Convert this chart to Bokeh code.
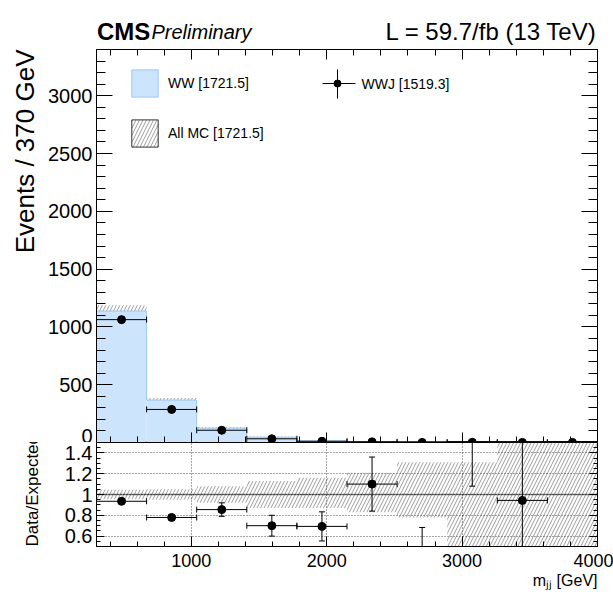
import numpy as np
from bokeh.plotting import figure
from bokeh.models import (Range1d, LinearAxis, SingleIntervalTicker, CustomJSTickFormatter,
                          Label, Legend, LegendItem, Span, Grid, Title)
from bokeh.layouts import column
from bokeh.embed import file_html
from bokeh.resources import INLINE

# ---------------- data ----------------
bin_edges = [300, 670, 1040, 1410, 1780, 2150, 2520, 2890, 3260, 3630, 4000]
mc_ww = [1137.0, 367.0, 124.0, 46.0, 15.0, 5.0, 3.3, 1.0, 1.06, 0.0]
data_wwj = [1063.0, 286.0, 106.0, 32.2, 10.4, 5.5, 1.0, 2.0, 1.0, 1.0]
data_err = [33.0, 17.0, 10.0, 5.7, 3.2, 2.3, 1.0, 1.4, 1.0, 1.0]
mc_rel_err_lo = [0.045, 0.05, 0.08, 0.13, 0.13, 0.17, 0.22, 0.60, 1.0, 1.0]
mc_rel_err_hi = [0.045, 0.05, 0.08, 0.13, 0.16, 0.21, 0.31, 0.31, 1.0, 1.0]
ratio_err_lo = [0.02, 0.025, 0.065, 0.10, 0.14, 0.26, 0.30, 0.92, 0.95, np.nan]
ratio_err_hi = [0.02, 0.025, 0.065, 0.10, 0.14, 0.26, 0.38, 1.00, 1.20, np.nan]
legend_ww = "WW [1721.5]"
legend_mc = "All MC [1721.5]"
legend_data = "WWJ [1519.3]"
title_cms = "CMS"
title_prelim = "Preliminary"
title_lumi = "L = 59.7/fb (13 TeV)"
ytitle_top = "Events / 370 GeV"
ytitle_ratio = "Data/Expected"
xtitle = "m\u2c7c\u2c7c [GeV]"

# ---------------- derived ----------------
edges = np.array(bin_edges, dtype=float)
left, right = edges[:-1], edges[1:]
centers = 0.5 * (left + right)
mc = np.array(mc_ww)
dat = np.array(data_wwj)
derr = np.array(data_err)
rlo = np.array(mc_rel_err_lo)
rhi = np.array(mc_rel_err_hi)
ratio = np.where(mc > 0, dat / np.where(mc > 0, mc, 1.0), np.nan)
r_elo = np.array(ratio_err_lo)
r_ehi = np.array(ratio_err_hi)

FONT = "Liberation Sans"
WW_FILL = "#cce4fc"
WW_LINE = "#9cc8f2"
HATCH_C = "#5a5a5a"

FW = 501          # frame width
HEAD_H = 49
TOP_FH = 393      # top frame height
RAT_FH = 104      # ratio frame height
BL, BR = 96, 16   # left / right borders
RAT_BB = 594 - HEAD_H - TOP_FH - RAT_FH

x_range = Range1d(300, 4000)


def style_axis(ax, tin, tmin, labels=True, size="20px", standoff=4):
    ax.axis_line_color = "black"
    ax.major_tick_in = tin
    ax.major_tick_out = 0
    ax.minor_tick_in = tmin
    ax.minor_tick_out = 0
    ax.major_tick_line_color = "black"
    ax.minor_tick_line_color = "black"
    if labels:
        ax.major_label_text_font = FONT
        ax.major_label_text_font_size = size
        ax.major_label_text_color = "black"
        ax.major_label_standoff = standoff
    else:
        ax.formatter = CustomJSTickFormatter(code="return ''")
        ax.major_label_text_font_size = "0px"
        ax.major_label_standoff = 0


# ================= header strip (frame spans the header texts) =================
head = figure(frame_width=FW, frame_height=HEAD_H, x_range=Range1d(BL, BL + FW),
              y_range=Range1d(HEAD_H, 0),
              output_backend="svg", toolbar_location=None,
              x_axis_location=None, y_axis_location=None,
              min_border_left=BL, min_border_right=BR, min_border_top=0, min_border_bottom=0)
head.grid.visible = False
head.outline_line_alpha = 0
head.background_fill_color = "white"
head.border_fill_color = "white"
head.add_layout(Label(x=BL + 0.5, y=31, text=title_cms, text_font=FONT, text_font_style="bold",
                      text_font_size="24px", text_baseline="alphabetic", text_color="black"))
head.add_layout(Label(x=151, y=31, text=title_prelim, text_font=FONT, text_font_style="italic",
                      text_font_size="20px", text_baseline="alphabetic", text_color="black"))
head.add_layout(Label(x=BL + FW - 0.5, y=31, text=title_lumi, text_font=FONT,
                      text_font_size="24px", text_align="right", text_baseline="alphabetic",
                      text_color="black"))

# ================= top panel =================
top = figure(frame_width=FW, frame_height=TOP_FH, x_range=x_range, y_range=Range1d(0, 3400),
             output_backend="svg", toolbar_location=None,
             x_axis_location=None, y_axis_location=None,
             min_border_left=BL, min_border_right=BR, min_border_top=0, min_border_bottom=0)
top.grid.visible = False
top.outline_line_color = "black"
top.outline_line_alpha = 1
top.outline_line_width = 1
top.background_fill_color = "white"
top.border_fill_color = "white"
top.extra_x_ranges = {"px": Range1d(BL, BL + FW)}
top.extra_y_ranges = {"px": Range1d(HEAD_H + TOP_FH, HEAD_H)}

ax = LinearAxis(ticker=SingleIntervalTicker(interval=500, num_minor_ticks=5))
style_axis(ax, 16, 9, True, "20px", 4)
top.add_layout(ax, "left")
ax = LinearAxis(ticker=SingleIntervalTicker(interval=500, num_minor_ticks=5))
style_axis(ax, 16, 9, False)
top.add_layout(ax, "right")
ax = LinearAxis(ticker=SingleIntervalTicker(interval=1000, num_minor_ticks=5))
style_axis(ax, 10, 6, False)
top.add_layout(ax, "above")
ax = LinearAxis(ticker=SingleIntervalTicker(interval=1000, num_minor_ticks=5))
style_axis(ax, 10, 6, False)
top.add_layout(ax, "below")

top.add_layout(Title(text=ytitle_top, align="right", text_font=FONT, text_font_style="normal",
                     text_font_size="26px", text_color="black", standoff=12), "left")

# MC uncertainty (hatched), then the WW stack on top of it
top.quad(left=left, right=right, bottom=mc * (1 - rlo), top=mc * (1 + rhi),
         fill_alpha=0, line_alpha=0, hatch_pattern="/", hatch_color=HATCH_C,
         hatch_scale=7, hatch_weight=0.6)
top.quad(left=left, right=right, bottom=0, top=mc, fill_color=WW_FILL, line_alpha=0)
top.step(x=list(edges), y=list(mc) + [mc[-1]], mode="after", line_color=WW_LINE, line_width=1)

# data
top.segment(x0=left, x1=right, y0=dat, y1=dat, line_color="black", line_width=1)
top.segment(x0=centers, x1=centers, y0=dat - derr, y1=dat + derr, line_color="black", line_width=1)
top.scatter(x=np.concatenate([left, right]), y=np.concatenate([dat, dat]), marker="dash",
            angle=np.pi / 2, size=6, line_color="black", line_width=1)
top.scatter(x=centers, y=dat, marker="circle", size=8, fill_color="black", line_color="black")

# legend (boxes)
leg_ww = top.quad(left=left[:1], right=right[:1], bottom=[0], top=mc[:1], fill_color=WW_FILL,
                  line_color=WW_LINE, line_width=1, visible=False)
leg_mc = top.quad(left=left[:1], right=right[:1], bottom=[0], top=mc[:1], fill_alpha=0,
                  hatch_pattern="/", hatch_color=HATCH_C, hatch_scale=7, hatch_weight=0.6,
                  line_color="#333333", line_width=1, visible=False)
legend = Legend(items=[LegendItem(label=legend_ww, renderers=[leg_ww]),
                       LegendItem(label=legend_mc, renderers=[leg_mc])],
                location=(32, 292), orientation="vertical", glyph_width=33, glyph_height=34,
                spacing=16, padding=0, margin=0, border_line_alpha=0, background_fill_alpha=0,
                label_standoff=7, label_text_font=FONT, label_text_font_size="14px",
                label_text_baseline="middle", label_text_color="black")
top.add_layout(legend)

# legend (data marker), placed in page-pixel coordinates of the frame
top.segment(x0=[322], x1=[355], y0=[83], y1=[83], line_color="black", line_width=1,
            x_range_name="px", y_range_name="px")
top.segment(x0=[337], x1=[337], y0=[69], y1=[98], line_color="black", line_width=1,
            x_range_name="px", y_range_name="px")
top.scatter(x=[337], y=[83], marker="circle", size=7, fill_color="black", line_color="black",
            x_range_name="px", y_range_name="px")
top.add_layout(Label(x=361, y=83, x_range_name="px", y_range_name="px", text=legend_data,
                     text_font=FONT, text_font_size="14px", text_baseline="middle",
                     text_color="black"))

# ================= ratio panel =================
rat = figure(frame_width=FW, frame_height=RAT_FH, x_range=x_range, y_range=Range1d(0.5, 1.5),
             output_backend="svg", toolbar_location=None,
             x_axis_location=None, y_axis_location=None,
             min_border_left=BL, min_border_right=BR, min_border_top=0, min_border_bottom=RAT_BB)
rat.grid.visible = False
rat.outline_line_color = "black"
rat.outline_line_alpha = 1
rat.outline_line_width = 1
rat.background_fill_color = "white"
rat.border_fill_color = "white"

ax = LinearAxis(ticker=SingleIntervalTicker(interval=0.2, num_minor_ticks=4),
                formatter=CustomJSTickFormatter(code="return String(Math.round(tick*10)/10)"))
style_axis(ax, 8, 4, True, "20px", 4)
rat.add_layout(ax, "left")
ax = LinearAxis(ticker=SingleIntervalTicker(interval=0.2, num_minor_ticks=4))
style_axis(ax, 8, 4, False)
rat.add_layout(ax, "right")
ax = LinearAxis(ticker=SingleIntervalTicker(interval=1000, num_minor_ticks=5))
style_axis(ax, 10, 5, True, "18px", 7)
rat.add_layout(ax, "below")

rat.add_layout(Title(text=ytitle_ratio, align="left", text_font=FONT, text_font_style="normal",
                     text_font_size="17px", text_color="black", standoff=40), "left")
rat.add_layout(Title(text=xtitle, align="right", text_font=FONT, text_font_style="normal",
                     text_font_size="16px", text_color="black", standoff=0), "below")

rat.add_layout(Grid(dimension=0, ticker=SingleIntervalTicker(interval=1000),
                    grid_line_color="black", grid_line_alpha=0.7, grid_line_dash="1 2",
                    grid_line_width=1))
rat.add_layout(Grid(dimension=1, ticker=SingleIntervalTicker(interval=0.2),
                    grid_line_color="black", grid_line_alpha=0.7, grid_line_dash="1 2",
                    grid_line_width=1))
rat.add_layout(Span(location=1.0, dimension="width", line_color="black", line_width=1.5,
                    line_dash="1 1"))

rat.quad(left=left, right=right, bottom=1 - rlo, top=1 + rhi, fill_alpha=0, line_alpha=0,
         hatch_pattern="/", hatch_color=HATCH_C, hatch_scale=7, hatch_weight=0.6)

rat.segment(x0=left, x1=right, y0=ratio, y1=ratio, line_color="black", line_width=1)
rat.segment(x0=centers, x1=centers, y0=ratio - r_elo, y1=ratio + r_ehi, line_color="black",
            line_width=1)
rat.scatter(x=np.concatenate([left, right]), y=np.concatenate([ratio, ratio]), marker="dash",
            angle=np.pi / 2, size=6, line_color="black", line_width=1)
rat.scatter(x=np.concatenate([centers, centers]),
            y=np.concatenate([ratio - r_elo, ratio + r_ehi]), marker="dash",
            size=6, line_color="black", line_width=1)
rat.scatter(x=centers, y=ratio, marker="circle", size=8, fill_color="black", line_color="black")

layout = column(head, top, rat, spacing=0)
open("out.html", "w").write(file_html(layout, INLINE))
